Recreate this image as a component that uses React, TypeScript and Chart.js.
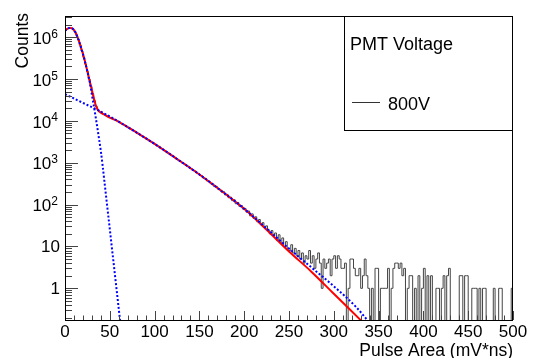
import React, { useEffect, useRef } from 'react';
import { Chart, registerables } from 'chart.js';

Chart.register(...registerables);

// ---------- data ----------
const binWidth = 2; // mV*ns per histogram bin, bins start at 0
const histCounts = [
  // 0 - 100
  1480000, 1580000, 1650000, 1640000, 1550000, 1360000, 1120000, 870000, 646000, 468000,
  331000, 226000, 151000, 100000, 66800, 44700, 30200, 22100, 18200, 16400,
  15500, 14500, 13800, 13000, 12300, 11750, 11220, 10720, 10230, 9770,
  9310, 8690, 8220, 7790, 7290, 6820, 6470, 6100, 5780, 5410,
  5090, 4790, 4460, 4220, 3970, 3760, 3500, 3270, 3090, 2910,
  // 100 - 200
  2740, 2530, 2410, 2210, 2120, 1930, 1850, 1700, 1620, 1480,
  1420, 1300, 1250, 1130, 1090, 985, 952, 862, 830, 752,
  722, 655, 636, 570, 551, 498, 481, 425, 419, 366,
  361, 315, 310, 268, 272, 236, 231, 200, 204, 171,
  175, 146, 150, 124, 130, 105, 112, 91, 95, 78,
  // 200 - 250
  81, 66, 70, 54, 60, 47, 51, 39, 44, 33, 37, 28, 31, 25, 20, 24, 18, 21, 14, 19, 12, 16, 10, 13, 9,
  // 250 - 500
  8, 11, 7, 9, 6, 8, 5, 7, 4, 6,
  5, 8, 4, 6, 3, 5, 7, 4, 1, 5,
  3, 4, 5, 2, 5, 6, 3, 6, 5, 3,
  3, 4, 0, 1, 5, 5, 3, 2, 2, 3,
  1, 2, 5, 2, 1, 0, 1, 0, 3, 3,
  0, 1, 1, 1, 1, 3, 0, 1, 3, 4,
  4, 3, 4, 2, 3, 0, 1, 2, 2, 0,
  1, 0, 2, 0, 1, 3, 0, 2, 0, 2,
  0, 0, 1, 1, 0, 1, 2, 0, 2, 3,
  0, 0, 0, 0, 0, 2, 2, 0, 2, 2,
  0, 0, 1, 1, 1, 0, 1, 0, 1, 1,
  0, 0, 0, 0, 1, 0, 0, 1, 1, 0,
  0, 0, 0, 0, 1,
];

// total fit (red)
const fitX = [0, 2, 4, 6, 8, 10, 12, 14, 16, 18, 20, 22, 24, 26, 28, 30, 32, 34, 36, 38, 40, 44, 50, 60, 80, 100, 125, 150, 175, 200, 225, 250, 275, 300, 330, 336];
const fitY = [1.43e6, 1.56e6, 1.64e6, 1.66e6, 1.62e6, 1.48e6, 1.26e6, 1.0e6, 7.6e5, 5.5e5, 3.98e5, 2.76e5, 1.87e5, 1.24e5, 8.1e4, 5.5e4, 3.6e4, 2.5e4, 1.95e4, 1.7e4, 1.58e4, 1.41e4, 1.2e4, 9.5e3, 5.25e3, 2.82e3, 1.23e3, 525, 209, 79.4, 25.1, 7.6, 2.5, 0.74, 0.174, 0.13];

// pedestal component (blue dotted)
const pedX = [0, 2, 4, 6, 8, 10, 12, 14, 16, 18, 20, 22, 24, 26, 28, 30, 32, 34, 36, 38, 40, 42, 44, 46, 48, 50, 52, 54, 56, 58, 60, 62];
const pedY = [1.41e6, 1.55e6, 1.64e6, 1.66e6, 1.62e6, 1.48e6, 1.26e6, 1.0e6, 7.6e5, 5.5e5, 3.98e5, 2.75e5, 1.86e5, 1.23e5, 7.8e4, 4.2e4, 2.4e4, 1.32e4, 7.1e3, 3.7e3, 1.9e3, 850, 355, 148, 62, 26, 10.7, 4.5, 1.86, 0.78, 0.32, 0.135];

// single photo-electron component (blue dotted)
const speX = [0, 20, 40, 60, 80, 100, 125, 150, 175, 200, 225, 250, 275, 300, 325, 345];
const speY = [4.36e4, 2.69e4, 1.66e4, 9.55e3, 5.25e3, 2.82e3, 1.23e3, 525, 209, 79.4, 26.9, 8.9, 3.16, 1.12, 0.355, 0.11];

const xMin = 0;
const xMax = 500;
const yMin = 0.175;
const yMax = 3.2e6;
const xTickValues = [0, 50, 100, 150, 200, 250, 300, 350, 400, 450, 500];
const xMinorStep = 10;
const yTickValues = [1, 10, 100, 1000, 10000, 100000, 1000000];
const yTickBase = ['1', '10', '10', '10', '10', '10', '10'];
const yTickSup = ['', '', '2', '3', '4', '5', '6'];
const xTitle = 'Pulse Area (mV*ns)';
const yTitle = 'Counts';
const legendTitle = 'PMT Voltage';
const legendEntry = '800V';

const FONT = '"Liberation Sans", Arial, Helvetica, sans-serif';

const rootStyle = {
  id: 'rootStyle',
  afterDatasetsDraw(chart: any) {
    const { ctx, chartArea: a, scales } = chart;
    const xs = scales.x;
    const ys = scales.y;
    ctx.save();

    // ticks (inside the frame)
    ctx.strokeStyle = '#444';
    ctx.lineWidth = 1;
    ctx.beginPath();
    for (let v = xMin; v <= xMax + 1e-9; v += xMinorStep) {
      const px = Math.round(xs.getPixelForValue(v)) + 0.5;
      const len = xTickValues.includes(v) ? 9 : 4.5;
      ctx.moveTo(px, a.bottom);
      ctx.lineTo(px, a.bottom - len);
    }
    for (let d = -1; d <= 6; d++) {
      for (let k = 1; k <= 9; k++) {
        const v = k * Math.pow(10, d);
        if (v < ys.min || v > ys.max) continue;
        const py = Math.round(ys.getPixelForValue(v)) + 0.5;
        const len = k === 1 ? 13 : 7;
        ctx.moveTo(a.left, py);
        ctx.lineTo(a.left + len, py);
      }
    }
    ctx.stroke();

    // frame
    ctx.strokeStyle = '#000';
    ctx.lineWidth = 1;
    ctx.strokeRect(a.left + 0.5, a.top + 0.5, a.right - a.left - 1, a.bottom - a.top);

    // x tick labels
    ctx.fillStyle = '#000';
    ctx.font = `17px ${FONT}`;
    ctx.textAlign = 'center';
    ctx.textBaseline = 'middle';
    xTickValues.forEach((v) => {
      ctx.fillText(String(v), xs.getPixelForValue(v), a.bottom + 12);
    });

    // y tick labels with superscripts
    yTickValues.forEach((v, i) => {
      const py = ys.getPixelForValue(v);
      const sup = yTickSup[i];
      if (!sup) {
        ctx.font = `17px ${FONT}`;
        ctx.textAlign = 'right';
        ctx.textBaseline = 'middle';
        ctx.fillText(yTickBase[i], a.left - 5, py + 1);
      } else {
        ctx.font = `12px ${FONT}`;
        ctx.textAlign = 'right';
        ctx.textBaseline = 'alphabetic';
        const sw = ctx.measureText(sup).width;
        const right = a.left - 7;
        ctx.fillText(sup, right, py + 0.5);
        ctx.font = `17px ${FONT}`;
        ctx.textBaseline = 'middle';
        ctx.fillText(yTickBase[i], right - sw, py + 2);
      }
    });

    // axis titles
    ctx.font = `17.5px ${FONT}`;
    ctx.textAlign = 'right';
    ctx.textBaseline = 'alphabetic';
    ctx.fillText(xTitle, a.right, a.bottom + 35.5);
    ctx.save();
    ctx.translate(28, a.top - 3);
    ctx.rotate(-Math.PI / 2);
    ctx.fillText(yTitle, 0, 0);
    ctx.restore();

    // legend box
    const bx = a.left + 279;
    const by = a.top;
    const bw = a.right - bx;
    const bh = 114;
    ctx.fillStyle = '#fff';
    ctx.fillRect(bx, by, bw, bh);
    ctx.strokeStyle = '#000';
    ctx.strokeRect(bx + 0.5, by + 0.5, bw - 1, bh);
    ctx.fillStyle = '#000';
    ctx.font = `18px ${FONT}`;
    ctx.textAlign = 'left';
    ctx.textBaseline = 'alphabetic';
    ctx.fillText(legendTitle, bx + 6, by + 33.5);
    ctx.strokeStyle = '#333';
    ctx.beginPath();
    ctx.moveTo(bx + 8, by + 86.5);
    ctx.lineTo(bx + 36, by + 86.5);
    ctx.stroke();
    ctx.fillText(legendEntry, bx + 44, by + 93.5);

    ctx.restore();
  },
};

export default function App() {
  const ref = useRef<HTMLCanvasElement | null>(null);

  useEffect(() => {
    if (!ref.current) return;
    const histData = histCounts.map((c, i) => ({ x: i * binWidth, y: c > 0 ? c : 1e-3 }));
    const last = histCounts[histCounts.length - 1];
    histData.push({ x: histCounts.length * binWidth, y: last > 0 ? last : 1e-3 });

    const chart = new Chart(ref.current, {
      type: 'line',
      data: {
        datasets: [
          {
            label: 'pedestal',
            data: pedX.map((x, i) => ({ x, y: pedY[i] })),
            borderColor: '#0000ff',
            borderWidth: 2,
            borderDash: [2, 2],
            pointRadius: 0,
            cubicInterpolationMode: 'monotone',
            fill: false,
            order: 1,
          },
          {
            label: 'spe',
            data: speX.map((x, i) => ({ x, y: speY[i] })),
            borderColor: '#0000ff',
            borderWidth: 2,
            borderDash: [2, 2],
            pointRadius: 0,
            cubicInterpolationMode: 'monotone',
            fill: false,
            order: 1,
          },
          {
            label: 'fit',
            data: fitX.map((x, i) => ({ x, y: fitY[i] })),
            borderColor: '#ff0000',
            borderWidth: 2,
            pointRadius: 0,
            cubicInterpolationMode: 'monotone',
            fill: false,
            order: 2,
          },
          {
            label: '800V',
            data: histData,
            borderColor: '#444',
            borderWidth: 1,
            pointRadius: 0,
            stepped: 'before',
            fill: false,
            order: 3,
          },
        ],
      },
      options: {
        animation: false,
        responsive: false,
        devicePixelRatio: 1,
        layout: { padding: { left: 0, top: 16, right: 22, bottom: 0 } },
        plugins: { legend: { display: false }, tooltip: { enabled: false } },
        scales: {
          x: {
            type: 'linear',
            min: xMin,
            max: xMax,
            ticks: { display: false },
            grid: { display: false },
            border: { display: false },
            afterFit: (s: any) => { s.height = 38; },
          },
          y: {
            type: 'logarithmic',
            min: yMin,
            max: yMax,
            ticks: { display: false },
            grid: { display: false },
            border: { display: false },
            afterFit: (s: any) => { s.width = 65; },
          },
        },
      },
      plugins: [rootStyle],
    } as any);
    return () => chart.destroy();
  }, []);

  return (
    <div style={{ position: 'fixed', left: 0, top: 0, width: 535, height: 358, background: '#fff' }}>
      <canvas ref={ref} width={535} height={358} style={{ display: 'block', width: 535, height: 358 }} />
    </div>
  );
}
